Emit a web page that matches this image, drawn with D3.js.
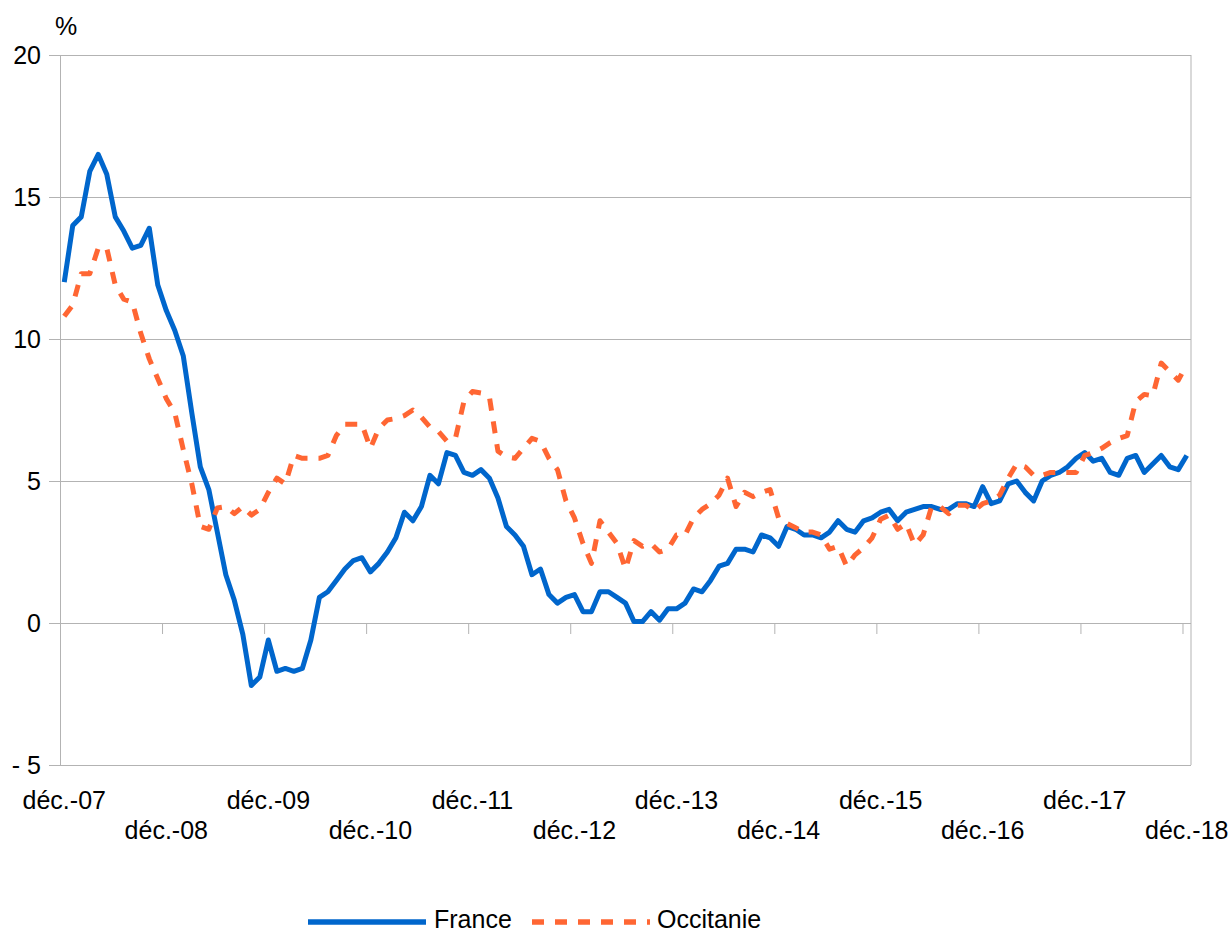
<!DOCTYPE html>
<html lang="fr">
<head>
<meta charset="utf-8">
<title>France / Occitanie</title>
<script src="https://cdn.jsdelivr.net/npm/d3@7"></script>
<style>
  html, body { margin: 0; padding: 0; background: #fff; }
  svg { display: block; font-family: "Liberation Sans", Arial, sans-serif; }
</style>
</head>
<body>
<svg id="chart" width="1231" height="934"></svg>
<script>
// Monthly series, déc.-07 to déc.-18 (133 months), in %
const monthNames = ["janv.", "févr.", "mars", "avr.", "mai", "juin", "juil.", "août", "sept.", "oct.", "nov.", "déc."];

const france = [
  12.0, 14.0, 14.3, 15.9, 16.5, 15.8, 14.3, 13.8, 13.2, 13.3, 13.9, 11.9,
  11.0, 10.3, 9.4, 7.4, 5.5, 4.7, 3.2, 1.7, 0.8, -0.4, -2.2, -1.9,
  -0.6, -1.7, -1.6, -1.7, -1.6, -0.6, 0.9, 1.1, 1.5, 1.9, 2.2, 2.3,
  1.8, 2.1, 2.5, 3.0, 3.9, 3.6, 4.1, 5.2, 4.9, 6.0, 5.9, 5.3,
  5.2, 5.4, 5.1, 4.4, 3.4, 3.1, 2.7, 1.7, 1.9, 1.0, 0.7, 0.9,
  1.0, 0.4, 0.4, 1.1, 1.1, 0.9, 0.7, 0.05, 0.05, 0.4, 0.1, 0.5,
  0.5, 0.7, 1.2, 1.1, 1.5, 2.0, 2.1, 2.6, 2.6, 2.5, 3.1, 3.0,
  2.7, 3.4, 3.3, 3.1, 3.1, 3.0, 3.2, 3.6, 3.3, 3.2, 3.6, 3.7,
  3.9, 4.0, 3.6, 3.9, 4.0, 4.1, 4.1, 4.0, 4.0, 4.2, 4.2, 4.1,
  4.8, 4.2, 4.3, 4.9, 5.0, 4.6, 4.3, 5.0, 5.2, 5.3, 5.5, 5.8,
  6.0, 5.7, 5.8, 5.3, 5.2, 5.8, 5.9, 5.3, 5.6, 5.9, 5.5, 5.4,
  5.9
];

const occitanie = [
  10.8, 11.2, 12.3, 12.3, 13.2, 13.2, 11.9, 11.4, 11.3, 10.2, 9.3, 8.6,
  7.9, 7.4, 6.1, 4.9, 3.4, 3.3, 4.05, 4.1, 3.85, 4.1, 3.8, 4.0,
  4.6, 5.1, 4.9, 5.9, 5.8, 5.8, 5.8, 5.9, 6.6, 7.0, 7.0, 7.0,
  6.15, 6.85, 7.15, 7.2, 7.3, 7.5, 7.25, 6.9, 6.75, 6.4, 6.5, 7.8,
  8.15, 8.1, 7.95, 6.05, 5.85, 5.8, 6.15, 6.5, 6.4, 5.8, 5.4, 4.3,
  3.7, 2.8, 2.1, 3.6, 3.2, 2.8, 1.9, 2.9, 2.7, 2.8, 2.5, 2.6,
  3.1, 3.1, 3.7, 4.0, 4.2, 4.5, 5.1, 4.1, 4.6, 4.45, 4.6, 4.7,
  3.7, 3.5, 3.35, 3.2, 3.2, 3.1, 2.6, 2.7, 2.0, 2.4, 2.65, 3.0,
  3.65, 3.8, 3.3, 3.5, 2.75, 3.1, 4.1, 4.1, 3.85, 4.15, 4.15, 3.95,
  4.2, 4.3, 4.5, 5.1, 5.6, 5.5, 5.2, 5.2, 5.3, 5.3, 5.3, 5.3,
  5.9, 6.0, 6.15, 6.35, 6.5, 6.6, 7.8, 8.05, 8.0, 9.15, 8.85, 8.55,
  9.1
];

const seriesNames = ["France", "Occitanie"];
const seriesColors = ["#0066cc", "#ff6633"];

const yTickValues = [-5, 0, 5, 10, 15, 20];
const yTickLabels = ["- 5", "0", "5", "10", "15", "20"];
const xTickLabels = ["déc.-07", "déc.-08", "déc.-09", "déc.-10", "déc.-11", "déc.-12",
                     "déc.-13", "déc.-14", "déc.-15", "déc.-16", "déc.-17", "déc.-18"];
const unitLabel = "%";

// Category labels for every month starting in December 2007
const categories = france.map((_, i) => {
  const m = (11 + i) % 12;
  const yr = 7 + Math.floor((11 + i) / 12);
  return monthNames[m] + "-" + String(yr).padStart(2, "0");
});

const svg = d3.select("#chart");
const plot = { left: 60, right: 1191, top: 55, bottom: 765 };
const gridColor = "#b3b3b3";

const x = d3.scaleBand().domain(d3.range(categories.length)).range([plot.left, plot.right]).padding(0);
const xEdge = d3.scaleLinear().domain([0, categories.length]).range([plot.left, plot.right]);
const y = d3.scaleLinear().domain([-5, 20]).range([plot.bottom, plot.top]);
const cx = i => x(i) + x.bandwidth() / 2;

// Horizontal gridlines
svg.append("g")
  .attr("transform", `translate(${plot.left},0)`)
  .call(d3.axisLeft(y).tickValues(yTickValues).tickSize(-(plot.right - plot.left)).tickFormat(""))
  .call(g => g.select(".domain").remove())
  .call(g => g.selectAll("line").attr("stroke", gridColor).attr("stroke-width", 1));

// Y axis with outer ticks and labels
svg.append("g")
  .attr("transform", `translate(${plot.left},0)`)
  .call(d3.axisLeft(y).tickValues(yTickValues).tickSize(11).tickPadding(8)
    .tickFormat(d => yTickLabels[yTickValues.indexOf(d)]))
  .call(g => g.select(".domain").attr("stroke", gridColor))
  .call(g => g.selectAll("line").attr("stroke", gridColor))
  .call(g => g.selectAll("text").attr("font-size", 25).attr("fill", "#000")
    .attr("font-family", "Liberation Sans, Arial, sans-serif"));

// Right border of the plot area
svg.append("line")
  .attr("x1", plot.right).attr("x2", plot.right)
  .attr("y1", plot.top).attr("y2", plot.bottom)
  .attr("stroke", gridColor);

// Year ticks on the zero line, at category boundaries
const yearIdx = d3.range(0, categories.length, 12);
svg.append("g")
  .attr("transform", `translate(0,${y(0)})`)
  .call(d3.axisBottom(xEdge).tickValues(yearIdx.slice(1)).tickSize(11).tickFormat(""))
  .call(g => g.select(".domain").remove())
  .call(g => g.selectAll("line").attr("stroke", gridColor));

// Staggered category labels under the plot
svg.append("g")
  .attr("transform", `translate(0,${plot.bottom})`)
  .call(d3.axisBottom(x).tickValues(yearIdx).tickSize(0).tickPadding(0)
    .tickFormat(i => xTickLabels[yearIdx.indexOf(i)]))
  .call(g => g.select(".domain").remove())
  .call(g => g.selectAll("text")
    .attr("font-size", 25).attr("fill", "#000")
    .attr("font-family", "Liberation Sans, Arial, sans-serif")
    .attr("dy", null)
    .attr("y", (i) => (yearIdx.indexOf(i) % 2 === 0 ? 44 : 74)));

// Unit label
svg.append("text")
  .attr("x", 55).attr("y", 35)
  .attr("font-size", 25).attr("fill", "#000")
  .text(unitLabel);

// Series lines
const line = d3.line().x((d, i) => cx(i)).y(d => y(d));
const seriesData = [france, occitanie];
seriesData.forEach((vals, k) => {
  svg.append("path")
    .datum(vals)
    .attr("fill", "none")
    .attr("stroke", seriesColors[k])
    .attr("stroke-width", 5)
    .attr("stroke-linejoin", "round")
    .attr("stroke-dasharray", k === 1 ? "12 11" : null)
    .attr("d", line);
});

// Legend
const legend = [
  { x1: 308, x2: 426, tx: 434 },
  { x1: 532, x2: 650, tx: 657 }
];
legend.forEach((l, k) => {
  svg.append("line")
    .attr("x1", l.x1).attr("x2", l.x2)
    .attr("y1", 922).attr("y2", 922)
    .attr("stroke", seriesColors[k]).attr("stroke-width", 5.5)
    .attr("stroke-dasharray", k === 1 ? "12 11" : null);
  svg.append("text")
    .attr("x", l.tx).attr("y", 928)
    .attr("font-size", 25).attr("fill", "#000")
    .text(seriesNames[k]);
});
</script>
</body>
</html>
